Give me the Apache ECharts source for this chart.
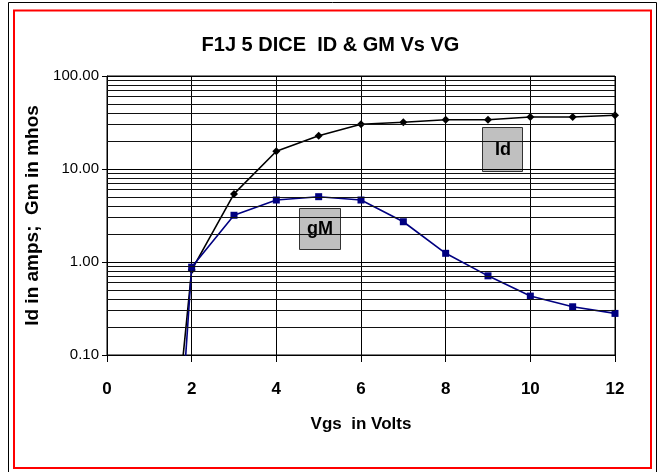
<!DOCTYPE html>
<html>
<head>
<meta charset="utf-8">
<script src="https://cdn.jsdelivr.net/npm/echarts@6/dist/echarts.min.js"></script>
<style>html,body{margin:0;padding:0;background:#fff}#c{width:661px;height:472px}</style>
</head>
<body>
<div id="c"></div>
<script>
var vgs = [1, 2, 3, 4, 5, 6, 7, 8, 9, 10, 11, 12];
var idAmps = [0.000022, 0.82, 5.4, 15.5, 22.8, 30.3, 31.8, 33.9, 33.9, 36.2, 36.2, 37.8];
var gmMhos = [0.00000016, 0.88, 3.18, 4.64, 5.04, 4.64, 2.71, 1.24, 0.71, 0.43, 0.33, 0.28];
var yTicks = [0.1, 1, 10, 100];
var yMinorGrid = [0.2,0.3,0.4,0.5,0.6,0.7,0.8,0.9,2,3,4,5,6,7,8,9,20,30,40,50,60,70,80,90];
var titleText = 'F1J 5 DICE  ID & GM Vs VG';
var xName = 'Vgs  in Volts';
var yName = 'Id in amps;  Gm in mhos';

var FONT = 'Liberation Sans, Arial, sans-serif';
var chart = echarts.init(document.getElementById('c'), null, {renderer: 'canvas'});

function pairs(ys) { return vgs.map(function (x, i) { return [x, ys[i]]; }); }

chart.setOption({
  animation: false,
  backgroundColor: '#fff',
  title: {
    text: titleText, left: 'center', top: 30,
    textStyle: {fontFamily: FONT, fontSize: 20, fontWeight: 'bold', color: '#000'}
  },
  grid: {left: 107, top: 76, right: 46, bottom: 117, show: true, borderColor: '#000', borderWidth: 1, backgroundColor: 'transparent'},
  xAxis: {
    type: 'value', min: 0, max: 12, interval: 2,
    name: xName, nameLocation: 'middle', nameGap: 61,
    nameTextStyle: {fontFamily: FONT, fontSize: 17, fontWeight: 'bold', color: '#000'},
    axisLine: {show: true, onZero: false, lineStyle: {color: '#000', width: 1}},
    axisTick: {show: true, length: 7, lineStyle: {color: '#000'}},
    axisLabel: {margin: 26, fontFamily: FONT, fontSize: 17, fontWeight: 'bold', color: '#000'},
    splitLine: {show: true, lineStyle: {color: '#000', width: 1}}
  },
  yAxis: {
    type: 'log', logBase: 10, min: 0.1, max: 100,
    name: yName, nameLocation: 'middle', nameGap: 62,
    nameTextStyle: {fontFamily: FONT, fontSize: 19, fontWeight: 'bold', color: '#000'},
    axisLine: {show: true, lineStyle: {color: '#000', width: 1}},
    axisTick: {show: true, length: 5, lineStyle: {color: '#000'}},
    axisLabel: {margin: 8, fontFamily: FONT, fontSize: 15, color: '#000',
      formatter: function (v) { return Number(v).toFixed(2); }},
    splitLine: {show: true, lineStyle: {color: '#000', width: 1}}
  },
  series: [
    {
      name: 'Id', type: 'line', data: pairs(idAmps), clip: true,
      symbol: 'diamond', symbolSize: 8,
      lineStyle: {color: '#000', width: 1.6},
      itemStyle: {color: '#000'},
      z: 3,
      markLine: {
        silent: true, symbol: 'none', animation: false,
        label: {show: false},
        lineStyle: {color: '#111', width: 1, type: 'solid'},
        data: yMinorGrid.map(function (v) { return {yAxis: v}; })
      }
    },
    {
      name: 'gM', type: 'line', data: pairs(gmMhos), clip: true,
      symbol: 'rect', symbolSize: 7,
      lineStyle: {color: '#000080', width: 1.6},
      itemStyle: {color: '#000080'},
      z: 4
    }
  ],
  graphic: [
    {type: 'rect', shape: {x: 8.5, y: 2.5, width: 648, height: 480}, style: {fill: 'none', stroke: '#000', lineWidth: 1}, silent: true},
    {type: 'rect', shape: {x: 14, y: 10.5, width: 637, height: 457.5}, style: {fill: 'none', stroke: '#ff0000', lineWidth: 2}, silent: true},
    {type: 'group', left: 299, top: 208, children: [
      {type: 'rect', shape: {x: 0.5, y: 0.5, width: 41, height: 41}, style: {fill: '#c0c0c0', stroke: '#333', lineWidth: 1}},
      {type: 'text', style: {x: 21, y: 21, text: 'gM', align: 'center', verticalAlign: 'middle', fontFamily: FONT, fontSize: 18, fontWeight: 'bold', fill: '#000'}}
    ]},
    {type: 'group', left: 482, top: 127, children: [
      {type: 'rect', shape: {x: 0.5, y: 0.5, width: 40, height: 44}, style: {fill: '#c0c0c0', stroke: '#333', lineWidth: 1}},
      {type: 'text', style: {x: 21, y: 23, text: 'Id', align: 'center', verticalAlign: 'middle', fontFamily: FONT, fontSize: 18, fontWeight: 'bold', fill: '#000'}}
    ]}
  ]
});
</script>
</body>
</html>
